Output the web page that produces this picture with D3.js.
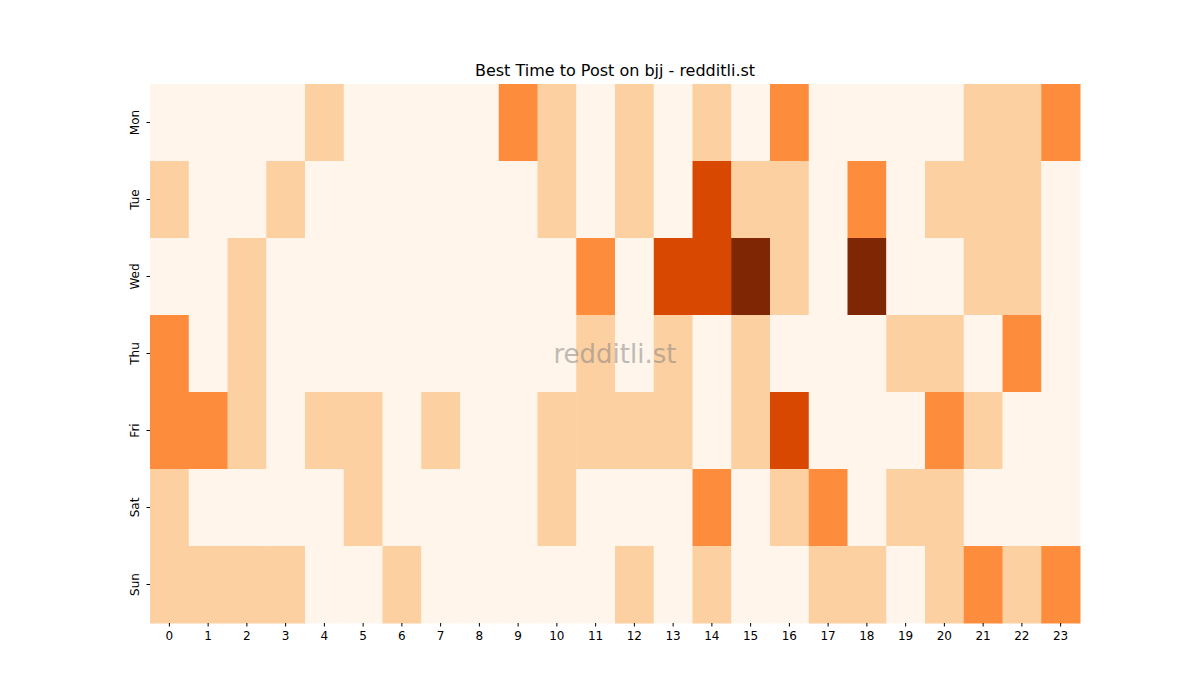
<!DOCTYPE html>
<html><head><meta charset="utf-8">
<script src="https://cdn.jsdelivr.net/npm/d3@7"></script>
<style>body{margin:0;background:#fff}text{font-family:"DejaVu Sans",sans-serif}</style>
</head><body><svg id="c" width="1200" height="700"></svg>
<script>
var days = ['Mon', 'Tue', 'Wed', 'Thu', 'Fri', 'Sat', 'Sun'];
var hours = d3.range(24);
// activity level per day, hour 0..23
var mon = [0,0,0,0,1,0,0,0,0,2,1,0,1,0,1,0,2,0,0,0,0,1,1,2];
var tue = [1,0,0,1,0,0,0,0,0,0,1,0,1,0,3,1,1,0,2,0,1,1,1,0];
var wed = [0,0,1,0,0,0,0,0,0,0,0,2,0,3,3,4,1,0,4,0,0,1,1,0];
var thu = [2,0,1,0,0,0,0,0,0,0,0,1,0,1,0,1,0,0,0,1,1,0,2,0];
var fri = [2,2,1,0,1,1,0,1,0,0,1,1,1,1,0,1,3,0,0,0,2,1,0,0];
var sat = [1,0,0,0,0,1,0,0,0,0,1,0,0,0,2,0,1,2,0,1,1,0,0,0];
var sun = [1,1,1,1,0,0,1,0,0,0,0,0,1,0,1,0,0,1,1,0,1,2,1,2];
var rows = [mon, tue, wed, thu, fri, sat, sun];
var palette = ['#fff5eb', '#fdd0a2', '#fd8d3c', '#d94801', '#7f2704'];

var mLeft = 150, mRight = 1080, mTop = 84, mBottom = 623;
var svg = d3.select('#c');
var x = d3.scaleBand().domain(hours).range([mLeft, mRight]);
var y = d3.scaleBand().domain(days).range([mTop, mBottom]);
var color = d3.scaleOrdinal().domain([0,1,2,3,4]).range(palette);

var cells = [];
rows.forEach(function(r, i) {
    r.forEach(function(v, h) { cells.push({day: days[i], hour: h, v: v}); });
});

svg.append('g').selectAll('rect').data(cells).enter().append('rect')
    .attr('x', function(d) { return x(d.hour); })
    .attr('y', function(d) { return y(d.day); })
    .attr('width', x.bandwidth() + 0.5)
    .attr('height', y.bandwidth() + 0.5)
    .attr('fill', function(d) { return color(d.v); });

var xa = svg.append('g').attr('transform', 'translate(0,' + mBottom + ')')
    .call(d3.axisBottom(x).tickSize(3.5).tickPadding(5));
xa.select('.domain').remove();
xa.selectAll('text').attr('font-size', 12).attr('fill', '#000').style('font-family', '"DejaVu Sans"');

var ya = svg.append('g').attr('transform', 'translate(' + mLeft + ',0)')
    .call(d3.axisLeft(y).tickSize(3.5).tickPadding(5));
ya.select('.domain').remove();
ya.selectAll('.tick text').attr('font-size', 12).attr('fill', '#000').style('font-family', '"DejaVu Sans"')
    .attr('text-anchor', 'middle').attr('x', 0).attr('y', 0).attr('dy', '0.35em')
    .attr('transform', 'translate(-15,0) rotate(-90)');

svg.append('text').attr('x', (mLeft + mRight) / 2).attr('y', 76)
    .attr('text-anchor', 'middle').attr('font-size', 16).text('Best Time to Post on bjj - redditli.st');

svg.append('text').attr('x', (mLeft + mRight) / 2).attr('y', (mTop + mBottom) / 2)
    .attr('text-anchor', 'middle').attr('dy', '0.35em').attr('font-size', 26)
    .attr('fill', '#808080').attr('opacity', 0.5).text('redditli.st');
</script></body></html>
